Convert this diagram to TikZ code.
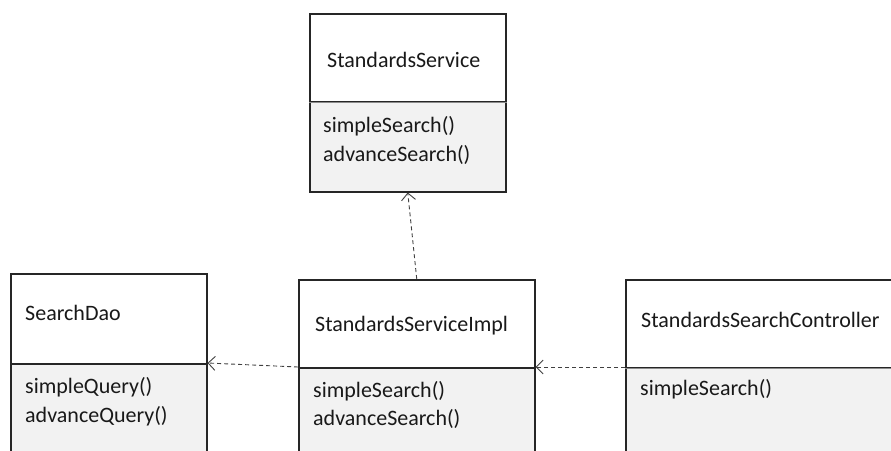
\documentclass[tikz,border=0pt]{standalone}
\usepackage{fontspec}
\setmainfont{Carlito}
\usetikzlibrary{arrows.meta}
\begin{document}
\begin{tikzpicture}[x=1pt,y=-1pt,
  classhead/.style={draw=black!85,line width=1.5pt,fill=white,inner sep=0pt,anchor=north west},
  classbody/.style={draw=black!85,line width=1.5pt,fill=black!5,inner sep=0pt,anchor=north west},
  txt/.style={anchor=base west,inner sep=0pt,font=\fontsize{22}{28}\selectfont,text=black!90},
  dep/.style={draw=black!75,line width=0.9pt,dash pattern=on 4pt off 3pt,
    -{Straight Barb[length=7pt,width=14pt,line width=0.9pt]}}]
\useasboundingbox (0,0) rectangle (891,450);
\clip (0,0) rectangle (891,450);

% StandardsService
\node[classhead,minimum width=196pt,minimum height=88pt] (svch) at (309,13) {};
\node[classbody,minimum width=196pt,minimum height=90pt] (svcb) at (309,101) {};
\draw[black!45,line width=1pt] (svch.south west) -- (svch.south east);
\node[txt] (svct) at (327,67) {StandardsService};
\node[txt] (svcm1) at (323,132) {simpleSearch()};
\node[txt] (svcm2) at (323,161) {advanceSearch()};

% SearchDao
\node[classhead,minimum width=196pt,minimum height=90pt] (daoh) at (10,273) {};
\node[classbody,minimum width=196pt,minimum height=120pt] (daob) at (10,363) {};
\node[txt] (daot) at (25,320) {SearchDao};
\node[txt] (daom1) at (25,393) {simpleQuery()};
\node[txt] (daom2) at (25,422) {advanceQuery()};

% StandardsServiceImpl
\node[classhead,minimum width=236pt,minimum height=88pt] (implh) at (298,279) {};
\node[classbody,minimum width=236pt,minimum height=120pt] (implb) at (298,367) {};
\node[txt] (implt) at (315,331) {StandardsServiceImpl};
\node[txt] (implm1) at (313,397) {simpleSearch()};
\node[txt] (implm2) at (313,425) {advanceSearch()};

% StandardsSearchController
\node[classhead,minimum width=300pt,minimum height=88pt] (ctrlh) at (625,279) {};
\node[classbody,minimum width=300pt,minimum height=120pt] (ctrlb) at (625,367) {};
\draw[black!45,line width=1pt] (ctrlh.south west) -- (ctrlh.south east);
\node[txt] (ctrlt) at (641,327) {StandardsSearchController};
\node[txt] (ctrlm1) at (640,395) {simpleSearch()};

% dependencies
\draw[dep] (implh.north) -- (svcb.south);
\draw[dep] (implb.north west) -- (daob.north east);
\draw[dep] (ctrlb.north west) -- (implb.north east);
\end{tikzpicture}
\end{document}
